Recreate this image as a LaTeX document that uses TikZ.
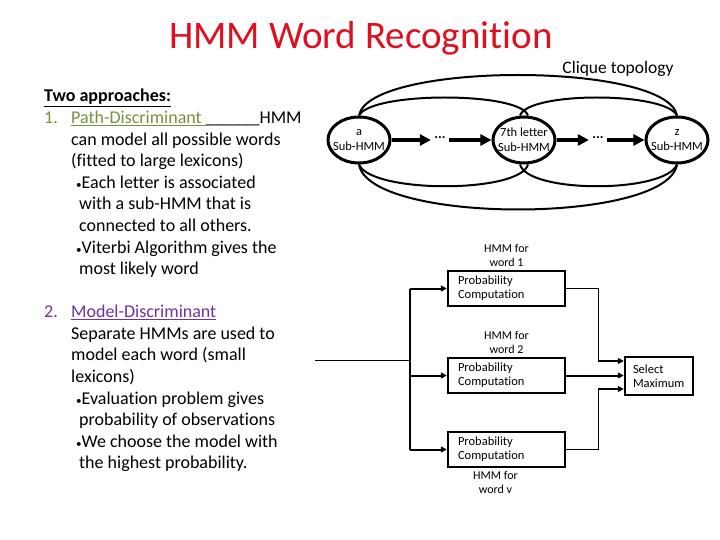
\documentclass[tikz,border=0pt]{standalone}
\usepackage{fontspec}
\setmainfont{Carlito}[Ligatures=NoCommon]
\usepackage{tikz}
\usetikzlibrary{shapes.geometric, arrows.meta, positioning, calc}
\definecolor{titlered}{RGB}{222,16,32}
\definecolor{myolive}{RGB}{118,146,60}
\definecolor{mypurple}{RGB}{112,48,160}
\newcommand{\smallbul}{{\fontsize{11}{11}\selectfont•}}
\tikzset{
  titletext/.style={font=\fontsize{39}{44}\selectfont, color=titlered, inner sep=0pt},
  bodytext/.style={font=\fontsize{18}{21.6}\selectfont, align=left, inner sep=0pt},
  subhmm/.style={ellipse, draw, line width=3pt, minimum width=56pt,
    minimum height=46pt, inner xsep=-4pt, inner ysep=-3pt, align=center,
    font=\fontsize{12.5}{15}\selectfont},
  probbox/.style={rectangle, draw, line width=2.4pt, text width=97pt,
    inner xsep=10pt, minimum height=35pt, align=left,
    font=\fontsize{12.5}{14}\selectfont},
  selbox/.style={probbox, text width=52pt, inner xsep=8pt, minimum height=38pt},
  lbl/.style={align=center, font=\fontsize{12}{14}\selectfont, inner sep=0pt},
  bigarrow/.style={-{Triangle[length=11pt,width=11pt]}, line width=3.2pt},
  smallarrow/.style={-{Triangle[length=6pt,width=6pt]}, line width=2pt},
  wire/.style={line width=1pt},
  cliquearc/.style={line width=2pt}
}

\begin{document}
\begin{tikzpicture}[x=1pt, y=-1pt]
  \useasboundingbox (0,0) rectangle (720,540);
  % Title
  \node[titletext] (title) at (361,38) {HMM Word Recognition};
  \node[font=\fontsize{17.5}{18}\selectfont] (clique) at (618,69) {Clique topology};
  % Two approaches
  \node[bodytext, anchor=north west] (appr1) at (44,89) {%
    \textbf{\underline{Two approaches:}}\\
    \makebox[27pt][l]{\color{myolive}1.}{\color{myolive}\underline{Path-Discriminant\ }}\_\_\_\_\_\_HMM\\
    \hspace*{27pt}can model all possible words\\
    \hspace*{27pt}(fitted to large lexicons)\\
    \hspace*{32pt}\smallbul Each letter is associated\\
    \hspace*{35pt}with a sub-HMM that is\\
    \hspace*{35pt}connected to all others.\\
    \hspace*{32pt}\smallbul Viterbi Algorithm gives the\\
    \hspace*{35pt}most likely word};
  \node[bodytext, anchor=north west] (appr2) at (44,305) {%
    \makebox[27pt][l]{\color{mypurple}2.}{\color{mypurple}\underline{Model-Discriminant}}\\
    \hspace*{27pt}Separate HMMs are used to\\
    \hspace*{27pt}model each word (small\\
    \hspace*{27pt}lexicons)\\
    \hspace*{32pt}\smallbul Evaluation problem gives\\
    \hspace*{35pt}probability of observations\\
    \hspace*{32pt}\smallbul We choose the model with\\
    \hspace*{35pt}the highest probability.};
  % Sub-HMMs
  \node[subhmm] (sa) at (359,140) {a\\Sub-HMM};
  \node[subhmm] (sr) at (524,140) {7th letter\\Sub-HMM};
  \node[subhmm] (sz) at (677,140) {z\\Sub-HMM};
  \node[font=\fontsize{14}{14}\bfseries] (dots1) at (440,138) {...};
  \node[font=\fontsize{14}{14}\bfseries] (dots2) at (598,138) {...};
  \draw[bigarrow] (sa) -- (dots1.west |- sa);
  \draw[bigarrow] (dots1.east |- sr) -- (sr);
  \draw[bigarrow] (sr) -- (dots2.west |- sr);
  \draw[bigarrow] (dots2.east |- sz) -- (sz);
  % Clique arcs
  \draw[cliquearc] (sa.north) .. controls +(10,-54) and +(-10,-54) .. (sz.north);
  \draw[cliquearc] (sa.north) .. controls +(12,-24) and +(-8,-24) .. ([xshift=4pt]sr.north);
  \draw[cliquearc] ([xshift=-4pt]sr.north) .. controls +(8,-24) and +(-12,-24) .. (sz.north);
  \draw[cliquearc] (sa.south) .. controls +(12,29) and +(-8,29) .. ([xshift=4pt]sr.south);
  \draw[cliquearc] ([xshift=-4pt]sr.south) .. controls +(8,29) and +(-12,29) .. (sz.south);
  \draw[cliquearc] (sa.south) .. controls +(10,60) and +(-10,60) .. (sz.south);
  % Word models
  \node[probbox] (pc1) at (506.5,288.5) {Probability\\Computation};
  \node[probbox] (pc2) at (506.5,375.5) {Probability\\Computation};
  \node[probbox] (pc3) at (506.5,449.5) {Probability\\Computation};
  \node[lbl, above=3pt of pc1] (w1) {HMM for\\word 1};
  \node[lbl, above=3pt of pc2] (w2) {HMM for\\word 2};
  \node[lbl, below=3pt of pc3, xshift=-11pt] (wv) {HMM for\\word v};
  \node[selbox] (sel) at (659,376) {Select\\Maximum};
  % Input wire
  \coordinate (inp) at (315,360);
  \coordinate (split) at (410,360);
  \draw[wire] (inp) -- (split);
  \draw[line width=2pt] (split |- pc1.west) -- (split |- pc3.west);
  \foreach \b in {pc1,pc2,pc3}
    \draw[smallarrow] (split |- \b.west) -- (\b.west);
  % Outputs
  \coordinate (bus) at (598,376);
  \coordinate (in1) at ($(sel.west)+(0,-15)$);
  \coordinate (in3) at ($(sel.west)+(0,13)$);
  \draw[wire] (pc1.east) -| (bus |- in1);
  \draw[smallarrow] (bus |- in1) -- (in1);
  \draw[smallarrow] (pc2.east) -- (pc2.east -| sel.west);
  \draw[wire] (pc3.east) -| (bus |- in3);
  \draw[smallarrow] (bus |- in3) -- (in3);
\end{tikzpicture}
\end{document}
